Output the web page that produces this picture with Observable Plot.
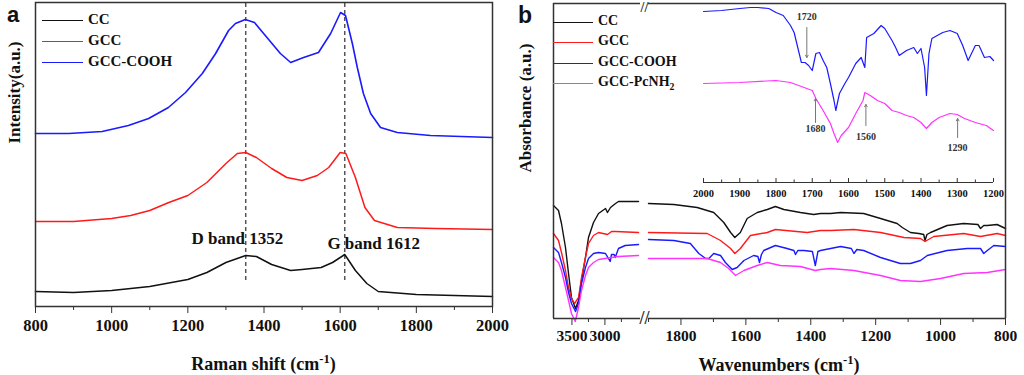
<!DOCTYPE html>
<html><head><meta charset="utf-8">
<script src="https://cdn.jsdelivr.net/npm/d3@7"></script>
<script src="https://cdn.jsdelivr.net/npm/@observablehq/plot@0.6"></script>
<style>
body{margin:0;width:1024px;height:375px;background:#fff;position:relative;overflow:hidden;font-family:"Liberation Serif",serif;font-weight:bold;color:#111;}
.abs{position:absolute;line-height:1;white-space:nowrap;}
.abs svg{max-width:none;}
.abs svg text{font-family:"Liberation Serif",serif;font-weight:bold;}
sup,sub{font-size:0.7em;line-height:0;}
</style></head><body>
<script>
// ---------- Panel a: Raman ----------
const ramanTicksMajor = [800, 1000, 1200, 1400, 1600, 1800, 2000];
const ramanTicksMinor = [900, 1100, 1300, 1500, 1700, 1900];
const bandPos = [1352, 1612];
const bandLabels = ["D band 1352", "G band 1612"];
const bandLabelX = [1330, 1688];
const bandLabelY = [68, 63];
const ramanCC = [[800,15],[900,14],[1000,16],[1100,20],[1200,27],[1250,34],[1300,44],[1352,51],[1380,50],[1420,42],[1470,36],[1500,37],[1550,39],[1580,44],[1612,52],[1640,36],[1670,23],[1700,15],[1800,12],[1900,11],[2000,10]];
const ramanGCC = [[800,85],[900,85],[1000,88],[1050,91],[1100,96],[1150,104],[1200,111],[1250,124],[1300,143],[1330,153],[1352,154],[1380,149],[1420,138],[1460,129],[1500,126],[1540,131],[1570,139],[1600,154],[1615,153],[1640,129],[1665,99],[1690,86],[1750,79],[1850,78],[2000,77]];
const ramanCOOH = [[800,173],[887,173],[975,175],[1044,181],[1097,188],[1149,199],[1194,214],[1238,233],[1273,253],[1307,276],[1325,283],[1351,287],[1375,284],[1399,273],[1443,253],[1470,244],[1504,249],[1543,254],[1575,273],[1601,294],[1614,291],[1632,263],[1645,239],[1661,213],[1680,193],[1706,179],[1750,174],[1837,171],[2000,169]];
const legendA = ["CC", "GCC", "GCC-COOH"];

// ---------- Panel b: FTIR ----------
const irTicksLeftMajor = [3500, 3000];
const irTicksLeftMinor = [3250, 2750];
const irTicksRightMajor = [1800, 1600, 1400, 1200, 1000, 800];
const irTicksRightMinor = [1900, 1700, 1500, 1300, 1100, 900];
const irCC_L = [[3780,113],[3704,108],[3659,95],[3598,71],[3552,45],[3507,21],[3446,10],[3400,18],[3355,38],[3295,61],[3249,81],[3173,96],[3097,105],[2991,110],[2961,106],[2915,111],[2839,115],[2794,117],[2490,117]];
const irGCC_L = [[3780,85],[3704,78],[3659,66],[3598,48],[3552,31],[3507,20],[3460,15],[3400,21],[3355,41],[3295,61],[3249,75],[3173,83],[3097,86],[2960,84],[2900,87],[2839,87],[2490,86]];
const irCOOH_L = [[3780,71],[3704,66],[3659,56],[3598,41],[3552,26],[3507,15],[3446,7],[3400,15],[3355,35],[3295,51],[3249,60],[3173,65],[3097,66],[2991,65],[2920,57],[2900,64],[2860,64],[2844,61],[2794,70],[2692,73],[2490,74]];
const irPc_L = [[3780,61],[3704,56],[3659,48],[3598,31],[3552,18],[3507,5],[3450,-3],[3400,11],[3355,28],[3295,43],[3249,51],[3173,56],[3097,59],[2900,61],[2794,62],[2490,63]];
const irCC_R = [[1900,115],[1822,114],[1750,111],[1699,106],[1668,96],[1647,86],[1634,81],[1617,86],[1596,100],[1565,106],[1534,109],[1509,112],[1483,109],[1432,106],[1391,104],[1370,105],[1339,105],[1308,106],[1237,105],[1185,100],[1134,95],[1118,91],[1093,86],[1067,85],[1052,84],[1048,78],[1042,84],[1031,86],[980,93],[929,95],[885,94],[877,90],[867,93],[856,93],[826,94],[800,90]];
const irGCC_R = [[1900,86],[1719,85],[1678,78],[1647,70],[1634,65],[1617,70],[1586,83],[1534,86],[1509,89],[1411,86],[1370,88],[1339,88],[1267,89],[1185,86],[1113,81],[1062,80],[1048,77],[1021,82],[929,85],[877,82],[826,85],[800,83]];
const irCOOH_R = [[1900,79],[1822,78],[1771,75],[1745,65],[1724,60],[1714,60],[1699,65],[1678,63],[1663,56],[1642,49],[1627,51],[1606,58],[1576,63],[1563,62],[1558,56],[1552,64],[1545,68],[1509,73],[1473,70],[1452,68],[1447,64],[1440,68],[1421,68],[1395,67],[1386,53],[1378,67],[1370,68],[1308,72],[1275,70],[1267,65],[1258,69],[1237,68],[1185,61],[1124,55],[1093,55],[1062,58],[1041,63],[980,68],[918,70],[877,70],[867,65],[856,68],[836,73],[800,72]];
const irPc_R = [[1900,60],[1719,60],[1678,56],[1653,50],[1632,43],[1606,48],[1565,53],[1534,56],[1494,53],[1432,52],[1386,48],[1370,49],[1339,50],[1267,48],[1185,43],[1124,38],[1062,37],[1000,40],[929,45],[856,46],[800,49]];
const legendB = ["CC", "GCC", "GCC-COOH", "GCC-PcNH2"];

// ---------- Inset ----------
const insetTicksMajor = [2000, 1900, 1800, 1700, 1600, 1500, 1400, 1300, 1200];
const insetTicksMinor = [1950, 1850, 1750, 1650, 1550, 1450, 1350, 1250];
const insetCOOH = [[2000,171],[1950,172],[1900,174],[1870,175],[1850,175],[1820,174],[1800,170],[1780,167],[1760,157],[1750,150],[1740,135],[1730,120],[1720,120],[1710,117],[1700,112],[1690,129],[1680,130],[1670,122],[1660,115],[1650,99],[1640,82],[1635,72],[1625,89],[1610,99],[1600,105],[1580,119],[1565,125],[1555,115],[1550,145],[1530,149],[1510,157],[1500,154],[1480,142],[1470,135],[1460,127],[1440,132],[1420,135],[1410,129],[1400,134],[1390,115],[1385,87],[1378,129],[1370,144],[1340,150],[1320,152],[1300,149],[1285,137],[1270,122],[1250,137],[1240,137],[1225,125],[1210,126],[1200,122]];
const insetPc = [[2000,99],[1900,100],[1800,102],[1760,100],[1730,96],[1700,92],[1690,84],[1670,72],[1650,59],[1640,49],[1630,40],[1620,47],[1600,55],[1580,69],[1560,82],[1555,90],[1540,87],[1520,82],[1500,79],[1480,72],[1460,70],[1440,67],[1420,65],[1400,60],[1385,54],[1370,60],[1350,65],[1320,69],[1300,68],[1280,64],[1250,60],[1220,57],[1200,52]];
const insetArrowW = [1715, 1691, 1552, 1299];
const insetArrowFrom = [155, 60, 57, 45];
const insetArrowTo = [125, 84, 78, 64];
const insetArrowLabels = ["1720", "1680", "1560", "1290"];
const insetLabelV = [166, 54, 46, 35];

const colors = ["#111111", "#ff1a1a", "#1a1aff", "#ff33ff"];
const fmt = d => String(d);
const SERIF = "Liberation Serif";
const css = fs => `font-family:'Liberation Serif',serif;font-weight:bold;font-size:${fs}px;background:transparent;overflow:visible;color:#111;max-width:none;`;
const tickText = fs => ({fontFamily: SERIF, fontWeight: "bold", fontSize: fs});
const pts = arr => arr.map(([w, v]) => ({w, v}));
const lineOf = (arr, i, sw = 1.4) => Plot.line(pts(arr), {x: "w", y: "v", stroke: colors[i], strokeWidth: sw, strokeLinejoin: "round"});

function place(el, left, top) {
  const d = document.createElement("div");
  d.className = "abs";
  d.style.left = left + "px"; d.style.top = top + "px";
  if (typeof el === "string") d.innerHTML = el; else d.appendChild(el);
  document.body.appendChild(d);
  return d;
}

// Panel a
const bandText = bandLabels.map((t, i) => ({x: bandLabelX[i], y: bandLabelY[i], t}));
const plotA = Plot.plot({
  width: 512, height: 345, marginLeft: 35, marginRight: 20, marginTop: 2, marginBottom: 39,
  style: css(16.5),
  x: {domain: [800, 2000]},
  y: {domain: [0, 304], axis: null},
  marks: [
    Plot.axisX(ramanTicksMajor, {tickSize: 7, tickPadding: 6, tickFormat: fmt, label: null, stroke: "#333", ...tickText(16.5)}),
    Plot.axisX(ramanTicksMinor, {tickSize: 4, tickFormat: () => "", label: null, stroke: "#333"}),
    Plot.ruleX(bandPos, {y1: 26, y2: 303, stroke: "#555", strokeWidth: 1.5, strokeDasharray: "4,3"}),
    lineOf(ramanCC, 0, 1.5), lineOf(ramanGCC, 1, 1.5), lineOf(ramanCOOH, 2, 1.6),
    Plot.text(bandText, {x: "x", y: "y", text: "t", fill: "#111", ...tickText(17)}),
    Plot.text(["Intensity(a.u.)"], {frameAnchor: "left", text: d => d, rotate: -90, dx: -20.5, dy: -11, fill: "#111", ...tickText(17)}),
    Plot.frame({stroke: "#333", strokeWidth: 1.5})
  ]
});
place(plotA, 0, 0);

// Panel b left segment
const plotBL = Plot.plot({
  width: 130, height: 345, marginLeft: 41, marginRight: 2, marginTop: 3, marginBottom: 27,
  style: css(15.5),
  x: {domain: [3780, 2460]},
  y: {domain: [0, 315], axis: null},
  marks: [
    Plot.axisX(irTicksLeftMajor, {tickSize: 7, tickPadding: 4, tickFormat: fmt, label: null, stroke: "#333", ...tickText(15.5)}),
    Plot.axisX(irTicksLeftMinor, {tickSize: 4, tickFormat: () => "", label: null, stroke: "#333"}),
    lineOf(irCC_L, 0), lineOf(irGCC_L, 1), lineOf(irCOOH_L, 2), lineOf(irPc_L, 3),
    Plot.ruleX([3780], {stroke: "#333", strokeWidth: 1.5}),
    Plot.ruleY([0, 315], {stroke: "#333", strokeWidth: 1.5}),
    Plot.text(["Absorbance (a.u.)"], {frameAnchor: "left", text: d => d, rotate: -90, dx: -27.5, dy: 11.5, fill: "#111", ...tickText(17)})
  ]
});
place(plotBL, 512, 0);

// Panel b right segment
const plotBR = Plot.plot({
  width: 394, height: 345, marginLeft: 18, marginRight: 19, marginTop: 3, marginBottom: 27,
  style: css(15.5),
  x: {domain: [1900, 800]},
  y: {domain: [0, 315], axis: null},
  marks: [
    Plot.axisX(irTicksRightMajor, {tickSize: 7, tickPadding: 4, tickFormat: fmt, label: null, stroke: "#333", ...tickText(15.5)}),
    Plot.axisX(irTicksRightMinor, {tickSize: 4, tickFormat: () => "", label: null, stroke: "#333"}),
    lineOf(irCC_R, 0), lineOf(irGCC_R, 1), lineOf(irCOOH_R, 2), lineOf(irPc_R, 3),
    Plot.ruleX([800], {stroke: "#333", strokeWidth: 1.5}),
    Plot.ruleY([0, 315], {stroke: "#333", strokeWidth: 1.5}),
    Plot.text(["//"], {frameAnchor: "top-left", text: d => d, dx: -4, dy: 4, textAnchor: "middle", lineAnchor: "middle", fontSize: 14, fontWeight: "normal", fill: "#333"}),
    Plot.text(["//"], {frameAnchor: "bottom-left", text: d => d, dx: -4, textAnchor: "middle", lineAnchor: "middle", fontSize: 18, fontWeight: "normal", fill: "#333"})
  ]
});
place(plotBR, 630, 0);

// Inset
const insetArrows = insetArrowW.map((w, i) => ({w, a: insetArrowFrom[i], b: insetArrowTo[i], lv: insetLabelV[i], t: insetArrowLabels[i]}));
const plotInset = Plot.plot({
  width: 320, height: 205, marginLeft: 13, marginRight: 17, marginTop: 0, marginBottom: 23,
  style: css(10.5),
  x: {domain: [2000, 1200]},
  y: {domain: [0, 182], axis: null},
  marks: [
    Plot.ruleY([0], {stroke: "#333", strokeWidth: 1.2}),
    Plot.ruleX(insetTicksMajor, {y1: 0, y2: 4, stroke: "#333"}),
    Plot.ruleX(insetTicksMinor, {y1: 0, y2: 2.5, stroke: "#333"}),
    Plot.axisX(insetTicksMajor, {tickSize: 0, tickPadding: 7.5, tickFormat: fmt, label: null, ...tickText(10.5)}),
    lineOf(insetCOOH, 2, 1.2), lineOf(insetPc, 3, 1.2),
    Plot.arrow(insetArrows, {x1: "w", y1: "a", x2: "w", y2: "b", stroke: "#777", strokeWidth: 1, headLength: 4}),
    Plot.text(insetArrows, {x: "w", y: "lv", text: "t", fill: "#333", ...tickText(10)})
  ]
});
place(plotInset, 690, 0);

// Legends (HTML overlay)
function legend(names, lineLeft, lineW, tops, textLeft, fs) {
  names.forEach((n, i) => {
    const label = n.replace(/NH2$/, "NH<sub>2</sub>");
    place(`<div style="position:relative;height:0">
      <span style="position:absolute;left:0;top:${tops[i]}px;width:${lineW}px;border-top:1.5px solid ${colors[i]};"></span>
      <span style="position:absolute;left:${textLeft - lineLeft}px;top:${tops[i] - fs * 0.55}px;font-size:${fs}px;">${label}</span></div>`, lineLeft, 0);
  });
}
legend(legendA, 42, 41, [20, 41, 62], 88, 15);
legend(legendB, 553, 40, [22, 42, 63, 83], 598, 14);

// Axis titles and panel letters
place(`<div style="width:457px;text-align:center;font-size:18px;">Raman shift (cm<sup>-1</sup>)</div>`, 35, 355);
place(`<div style="width:452px;text-align:center;font-size:18px;">Wavenumbers (cm<sup>-1</sup>)</div>`, 553, 356);
place(`<div style="font-family:'Liberation Sans',sans-serif;font-size:22px;">a</div>`, 7, 4);
place(`<div style="font-family:'Liberation Sans',sans-serif;font-size:23px;">b</div>`, 518, 4);
</script>
</body></html>
